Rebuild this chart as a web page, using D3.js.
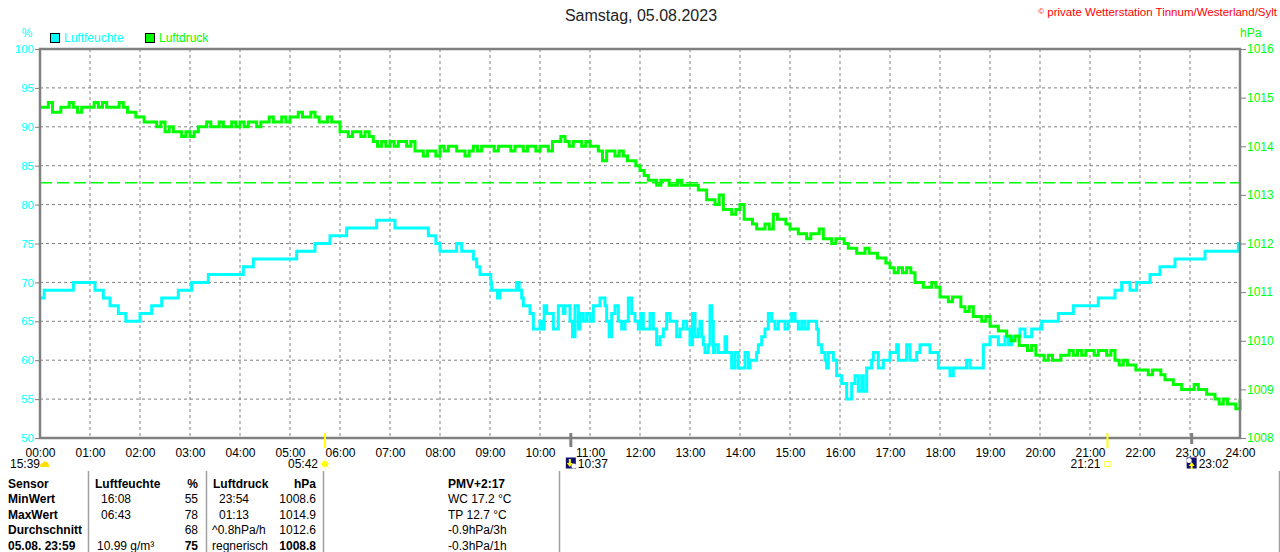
<!DOCTYPE html>
<html>
<head>
<meta charset="utf-8">
<script src="https://cdn.jsdelivr.net/npm/d3@7/dist/d3.min.js"></script>
<style>
  body { margin: 0; background: #fff; }
  text { font-family: "Liberation Sans", Arial, sans-serif; }
</style>
</head>
<body>
<svg id="chart"></svg>
<script>
// ---- data ----
const hourLabels = ["00:00","01:00","02:00","03:00","04:00","05:00","06:00","07:00","08:00","09:00","10:00","11:00","12:00",
  "13:00","14:00","15:00","16:00","17:00","18:00","19:00","20:00","21:00","22:00","23:00","24:00"];
const humTicks = [50, 55, 60, 65, 70, 75, 80, 85, 90, 95, 100];
const presTicks = [1008, 1009, 1010, 1011, 1012, 1013, 1014, 1015, 1016];
const normalPressure = 1013.25;

// Luftfeuchte, stepwise [time, %]
const humidity = [
  ["00:00",68],["00:05",69],["00:40",70],["01:06",69],["01:16",68],["01:24",67],["01:34",66],["01:43",65],
  ["02:00",66],["02:14",67],["02:26",68],["02:46",69],["03:02",70],["03:22",71],["04:04",72],["04:16",73],
  ["05:08",74],["05:30",75],["05:48",76],["06:08",77],["06:44",78],["07:06",77],["07:46",76],["07:55",75],
  ["08:00",74],["08:20",75],["08:26",74],["08:40",73],["08:44",72],["08:48",71],["09:01",70],["09:02",69],
  ["09:09",68],["09:12",69],["09:32",70],["09:35",69],["09:38",68],["09:40",67],["09:48",66],["09:52",64],
  ["10:00",65],["10:02",64],["10:05",67],["10:08",66],["10:16",64],["10:22",67],["10:28",66],["10:30",67],
  ["10:36",65],["10:39",63],["10:42",67],["10:46",64],["10:48",66],["10:52",65],["10:56",66],["11:00",65],
  ["11:04",67],["11:12",68],["11:18",67],["11:20",65],["11:23",63],["11:26",66],["11:30",67],["11:34",65],
  ["11:38",64],["11:42",65],["11:46",68],["11:50",66],["11:54",65],["11:58",64],["12:01",66],["12:04",64],
  ["12:12",66],["12:16",64],["12:20",62],["12:24",63],["12:28",64],["12:32",66],["12:36",65],["12:44",63],
  ["12:48",64],["12:52",65],["12:56",64],["13:00",62],["13:03",66],["13:06",63],["13:10",64],["13:12",65],
  ["13:14",63],["13:16",62],["13:18",61],["13:22",62],["13:24",67],["13:26",65],["13:28",61],["13:30",62],
  ["13:34",61],["13:42",63],["13:44",61],["13:48",61],["13:50",59],["13:54",61],["13:58",59],["14:06",61],
  ["14:10",59],["14:12",60],["14:16",60],["14:20",61],["14:22",62],["14:26",63],["14:30",64],["14:34",66],
  ["14:38",65],["14:42",64],["14:46",65],["14:54",64],["14:58",65],["15:02",66],["15:06",65],["15:10",64],
  ["15:14",65],["15:18",64],["15:22",65],["15:32",64],["15:34",62],["15:38",61],["15:42",60],["15:44",59],
  ["15:46",61],["15:52",60],["15:56",58],["16:02",57],["16:08",55],["16:14",57],["16:18",58],["16:22",56],
  ["16:26",58],["16:28",56],["16:32",59],["16:38",60],["16:40",61],["16:46",59],["16:52",60],["17:00",61],
  ["17:08",62],["17:10",60],["17:20",62],["17:24",60],["17:32",61],["17:36",62],["17:48",61],["17:58",59],
  ["18:12",58],["18:16",59],["18:32",60],["18:36",59],["18:52",62],["19:00",63],["19:10",62],["19:18",63],
  ["19:22",62],["19:26",63],["19:36",64],["19:42",63],["19:50",64],["20:02",65],["20:22",66],["20:40",67],
  ["21:10",68],["21:30",69],["21:38",70],["21:48",69],["21:56",70],["22:12",71],["22:24",72],["22:42",73],
  ["23:18",74],["23:58",75],["24:00",75]
];

// Luftdruck, one reading every 5 minutes from 00:00 to 24:00 (hPa)
const pressure = [
  1014.8,1014.8,1014.9,1014.7,1014.7,1014.8,1014.8,1014.9,1014.8,1014.7,1014.8,1014.8, // 00
  1014.8,1014.9,1014.8,1014.9,1014.8,1014.8,1014.8,1014.9,1014.8,1014.7,1014.7,1014.6, // 01
  1014.6,1014.5,1014.5,1014.5,1014.4,1014.5,1014.3,1014.4,1014.3,1014.3,1014.2,1014.3, // 02
  1014.2,1014.3,1014.4,1014.4,1014.5,1014.4,1014.4,1014.5,1014.4,1014.4,1014.5,1014.4, // 03
  1014.5,1014.4,1014.5,1014.5,1014.4,1014.5,1014.5,1014.6,1014.5,1014.5,1014.6,1014.5, // 04
  1014.6,1014.6,1014.7,1014.6,1014.6,1014.7,1014.6,1014.5,1014.5,1014.6,1014.5,1014.5, // 05
  1014.3,1014.3,1014.2,1014.3,1014.3,1014.2,1014.3,1014.2,1014.1,1014.0,1014.1,1014.0, // 06
  1014.1,1014.0,1014.1,1014.1,1014.0,1014.1,1013.9,1013.9,1013.8,1013.9,1013.9,1013.8, // 07
  1014.0,1013.9,1014.0,1014.0,1013.9,1013.9,1013.8,1013.9,1014.0,1013.9,1014.0,1014.0, // 08
  1014.0,1013.9,1014.0,1014.0,1014.0,1013.9,1014.0,1014.0,1013.9,1014.0,1014.0,1013.9, // 09
  1014.0,1014.0,1013.9,1014.1,1014.1,1014.2,1014.1,1014.0,1014.1,1014.1,1014.0,1014.1, // 10
  1014.0,1014.0,1013.9,1013.7,1013.9,1013.9,1013.8,1013.9,1013.8,1013.7,1013.7,1013.6, // 11
  1013.5,1013.4,1013.3,1013.3,1013.2,1013.3,1013.3,1013.2,1013.2,1013.3,1013.2,1013.2, // 12
  1013.2,1013.2,1013.1,1013.1,1012.9,1012.9,1012.8,1013.0,1012.7,1012.7,1012.6,1012.7, // 13
  1012.8,1012.5,1012.5,1012.4,1012.3,1012.3,1012.4,1012.3,1012.6,1012.5,1012.5,1012.4, // 14
  1012.3,1012.3,1012.2,1012.2,1012.1,1012.2,1012.2,1012.3,1012.1,1012.1,1012.0,1012.1, // 15
  1012.1,1012.0,1011.9,1011.9,1011.8,1011.8,1011.9,1011.8,1011.8,1011.7,1011.7,1011.6, // 16
  1011.5,1011.4,1011.5,1011.4,1011.5,1011.4,1011.2,1011.2,1011.1,1011.1,1011.2,1011.1, // 17
  1010.9,1010.9,1010.8,1010.9,1010.9,1010.7,1010.6,1010.7,1010.5,1010.5,1010.4,1010.5, // 18
  1010.3,1010.3,1010.2,1010.2,1010.1,1010.0,1010.1,1009.9,1009.9,1009.8,1009.9,1009.7, // 19
  1009.7,1009.6,1009.7,1009.6,1009.6,1009.7,1009.7,1009.8,1009.7,1009.8,1009.7,1009.8, // 20
  1009.8,1009.7,1009.8,1009.8,1009.7,1009.8,1009.6,1009.5,1009.6,1009.5,1009.5,1009.4, // 21
  1009.4,1009.4,1009.3,1009.4,1009.4,1009.3,1009.2,1009.2,1009.1,1009.1,1009.0,1009.0, // 22
  1009.0,1009.1,1009.0,1009.0,1008.9,1008.9,1008.8,1008.7,1008.8,1008.7,1008.7,1008.6, // 23
  1008.8
];

// Sonne / Mond
const sunEvents = [ { time: "05:42", kind: "rise" }, { time: "21:21", kind: "set" } ];
const moonEvents = [ { time: "10:37", kind: "set" }, { time: "23:02", kind: "rise" } ];
const dayLength = "15:39";

const statRows = [
  ["Sensor", "Luftfeuchte", "%", "Luftdruck", "hPa", "PMV+2:17"],
  ["MinWert", "16:08", "55", "23:54", "1008.6", "WC 17.2 °C"],
  ["MaxWert", "06:43", "78", "01:13", "1014.9", "TP 12.7 °C"],
  ["Durchschnitt", "", "68", "^0.8hPa/h", "1012.6", "-0.9hPa/3h"],
  ["05.08. 23:59", "10.99 g/m³", "75", "regnerisch", "1008.8", "-0.3hPa/1h"]
];

// ---- chart ----
const W = 1280, H = 552;
const margin = { top: 49, left: 40, right: 40, bottom: 114 };
const cyan = "#00ffff", green = "#00ff00", grey = "#808080";

const toMin = s => { const p = s.split(":"); return +p[0] * 60 + +p[1]; };

const svg = d3.select("#chart").attr("width", W).attr("height", H);
svg.append("rect").attr("width", W).attr("height", H).attr("fill", "#fff");

const x = d3.scaleLinear().domain([0, 1440]).range([margin.left, W - margin.right]);
const yH = d3.scaleLinear().domain([50, 100]).range([H - margin.bottom, margin.top]);
const yP = d3.scaleLinear().domain([1008, 1016]).range([H - margin.bottom, margin.top]);

// grid
svg.append("g").selectAll("line").data(humTicks.slice(1, -1)).join("line")
  .attr("x1", x(0)).attr("x2", x(1440))
  .attr("y1", d => yH(d)).attr("y2", d => yH(d))
  .attr("stroke", grey).attr("stroke-dasharray", "3,3");
svg.append("g").selectAll("line").data(hourLabels.slice(1, -1)).join("line")
  .attr("x1", d => x(toMin(d))).attr("x2", d => x(toMin(d)))
  .attr("y1", yH(100)).attr("y2", yH(50))
  .attr("stroke", grey).attr("stroke-dasharray", "3,3");

// normal pressure line
svg.append("line")
  .attr("x1", x(0)).attr("x2", x(1440))
  .attr("y1", yP(normalPressure)).attr("y2", yP(normalPressure))
  .attr("stroke", green).attr("stroke-width", 1.5).attr("stroke-dasharray", "12,5");

// series
const humLine = d3.line().curve(d3.curveStepAfter)
  .x(d => x(toMin(d[0]))).y(d => yH(d[1]));
svg.append("path").datum(humidity).attr("d", humLine)
  .attr("fill", "none").attr("stroke", cyan).attr("stroke-width", 3);

const presLine = d3.line().curve(d3.curveStepAfter)
  .x((d, i) => x(i * 5)).y(d => yP(d));
svg.append("path").datum(pressure).attr("d", presLine)
  .attr("fill", "none").attr("stroke", green).attr("stroke-width", 3);

// frame
svg.append("rect")
  .attr("x", x(0)).attr("y", yH(100))
  .attr("width", x(1440) - x(0)).attr("height", yH(50) - yH(100))
  .attr("fill", "none").attr("stroke", grey).attr("stroke-width", 2.5);

// axes
const leftAxis = svg.append("g").attr("transform", `translate(${x(0) - 1},0)`)
  .call(d3.axisLeft(yH).tickValues(humTicks).tickSize(4).tickPadding(1));
leftAxis.select(".domain").remove();
leftAxis.selectAll("line").attr("stroke", grey);
leftAxis.selectAll("text").attr("fill", cyan).style("font-size", "11.5px");

const rightAxis = svg.append("g").attr("transform", `translate(${x(1440) + 1},0)`)
  .call(d3.axisRight(yP).tickValues(presTicks).tickSize(5).tickPadding(1).tickFormat(d3.format("d")));
rightAxis.select(".domain").remove();
rightAxis.selectAll("line").attr("stroke", grey);
rightAxis.selectAll("text").attr("fill", green).style("font-size", "12px");

const bottomAxis = svg.append("g").attr("transform", `translate(0,${yH(50) + 10})`)
  .call(d3.axisBottom(x).tickValues(hourLabels.map(toMin)).tickSize(0).tickPadding(0)
    .tickFormat((d, i) => hourLabels[i]));
bottomAxis.select(".domain").remove();
bottomAxis.selectAll("text").attr("fill", "#000").style("font-size", "12px");

// units
svg.append("text").attr("x", 27).attr("y", 37).attr("text-anchor", "middle")
  .attr("fill", cyan).style("font-size", "12px").text("%");
svg.append("text").attr("x", 1240).attr("y", 37)
  .attr("fill", green).style("font-size", "12px").text("hPa");

// legend
const legend = [ { name: "Luftfeuchte", color: cyan, x: 50 }, { name: "Luftdruck", color: green, x: 145 } ];
const lg = svg.append("g").selectAll("g").data(legend).join("g");
lg.append("rect").attr("x", d => d.x + 0.5).attr("y", 33.5).attr("width", 9).attr("height", 9)
  .attr("fill", d => d.color).attr("stroke", "#000");
lg.append("text").attr("x", d => d.x + 14).attr("y", 42)
  .attr("fill", d => d.color).style("font-size", "12px").text(d => d.name);

// title + copyright
svg.append("text").attr("x", 641).attr("y", 21).attr("text-anchor", "middle")
  .attr("fill", "#222").style("font-size", "16px").text("Samstag, 05.08.2023");
const cp = svg.append("text").attr("x", 1277).attr("y", 16).attr("text-anchor", "end")
  .attr("fill", "#f00").style("font-size", "11.5px");
cp.append("tspan").style("font-size", "8px").attr("dy", -2).text("©");
cp.append("tspan").attr("dy", 2).text(" private Wetterstation Tinnum/Westerland/Sylt");

// sun / moon markers
const axisY = yH(50);
const ev = svg.append("g");
ev.selectAll(".sunTick").data(sunEvents).join("line")
  .attr("x1", d => x(toMin(d.time))).attr("x2", d => x(toMin(d.time)))
  .attr("y1", axisY - 5).attr("y2", axisY + 10)
  .attr("stroke", "#ffff00").attr("stroke-width", 2);
ev.selectAll(".moonTick").data(moonEvents).join("line")
  .attr("x1", d => x(toMin(d.time))).attr("x2", d => x(toMin(d.time)))
  .attr("y1", axisY - 5).attr("y2", d => axisY + (d.kind === "set" ? 9 : 6))
  .attr("stroke", grey).attr("stroke-width", 3);

// sun labels: text left of icon
ev.selectAll(".sunLabel").data(sunEvents).join("text")
  .attr("x", d => x(toMin(d.time)) - 7).attr("y", 468).attr("text-anchor", "end")
  .style("font-size", "12px").text(d => d.time);
sunEvents.forEach(d => {
  const cx = x(toMin(d.time)), cy = 464;
  if (d.kind === "rise") {
    const g = ev.append("g").attr("transform", `translate(${cx},${cy})`);
    g.selectAll("line").data(d3.range(0, 360, 45)).join("line")
      .attr("x1", 0).attr("y1", 0).attr("x2", a => 5.5 * Math.cos(a * Math.PI / 180))
      .attr("y2", a => 5.5 * Math.sin(a * Math.PI / 180))
      .attr("stroke", "#ffff80").attr("stroke-width", 1);
    g.append("circle").attr("r", 3).attr("fill", "#ffff00");
  } else {
    ev.append("rect").attr("x", cx - 2.5).attr("y", cy - 2.5).attr("width", 5).attr("height", 5)
      .attr("fill", "none").attr("stroke", "#ffff00").attr("stroke-width", 1);
  }
});

// moon labels: icon then text
moonEvents.forEach(d => {
  const cx = x(toMin(d.time)), cy = 463;
  const g = ev.append("g").attr("transform", `translate(${cx},${cy})`);
  g.append("rect").attr("x", -5).attr("y", -5.5).attr("width", 10).attr("height", 11).attr("fill", "#101070");
  if (d.kind === "set") {
    g.append("circle").attr("cx", 3).attr("cy", 3).attr("r", 2.5).attr("fill", "#fff");
    g.append("path").attr("d", "M-2,-4 L0,-4 L0,0 L2,0 L-1,4 L-4,0 L-2,0 Z").attr("fill", "#ffff00");
  } else {
    g.append("circle").attr("cx", -2.5).attr("cy", -2.5).attr("r", 2.5).attr("fill", "#fff");
    g.append("path").attr("d", "M0,-1 L3,3 L1,3 L1,6 L-1,6 L-1,3 L-3,3 Z").attr("fill", "#ffff00");
  }
  ev.append("text").attr("x", cx + 7).attr("y", 468)
    .style("font-size", "12px").text(d.time);
});

// day length at the left with little cloud
svg.append("text").attr("x", 10).attr("y", 468).style("font-size", "12px").text(dayLength);
svg.append("path").attr("d", "M40,467 Q40,463 43,463 Q44,460 46.5,462 Q49,462 49,467 Z").attr("fill", "#ffe000");

// stats table
const tableLines = [88, 206, 323, 559, 1279];
svg.append("g").selectAll("line").data(tableLines).join("line")
  .attr("x1", d => d + 0.5).attr("x2", d => d + 0.5).attr("y1", 471).attr("y2", H)
  .attr("stroke", "#a0a0a0").attr("stroke-width", 1.5);

const colX = [
  [8, 95, 198, 213, 316, 448],
  [8, 101, 198, 219, 316, 448],
  [8, 101, 198, 219, 316, 448],
  [8, 101, 198, 212, 316, 448],
  [8, 97, 198, 212, 316, 448]
];
const anchors = ["start", "start", "end", "start", "end", "start"];
const tbl = svg.append("g");
statRows.forEach((row, r) => {
  row.forEach((cell, c) => {
    const bold = r === 0 || c === 0 || (r === 4 && (c === 2 || c === 4));
    tbl.append("text")
      .attr("x", colX[r][c]).attr("y", 488 + r * 15.4)
      .attr("text-anchor", anchors[c])
      .style("font-size", "12px")
      .style("font-weight", bold ? "bold" : "normal")
      .attr("fill", "#000")
      .text(cell);
  });
});
</script>
</body>
</html>
